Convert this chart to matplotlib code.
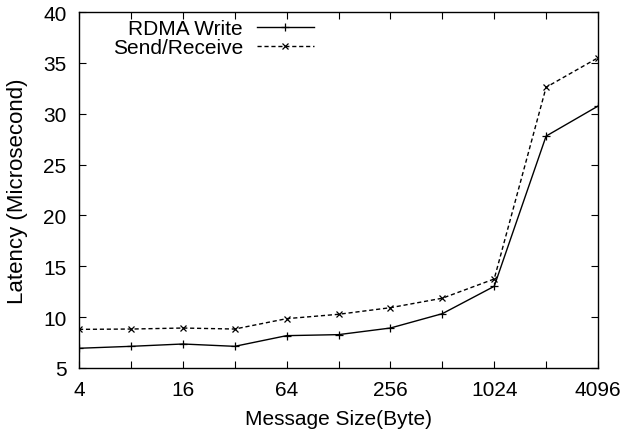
import matplotlib
matplotlib.use("Agg")
import matplotlib.pyplot as plt
import numpy as np

# message sizes in bytes
sizes = [4, 8, 16, 32, 64, 128, 256, 512, 1024, 2048, 4096]
rdma_write = [6.94, 7.13, 7.36, 7.13, 8.18, 8.28, 8.93, 10.34, 13.03, 27.8, 30.75]
send_recv = [8.80, 8.83, 8.93, 8.83, 9.85, 10.28, 10.93, 11.86, 13.75, 32.6, 35.5]
tick_labels = ["4", "", "16", "", "64", "", "256", "", "1024", "", "4096"]
y_ticks = [5, 10, 15, 20, 25, 30, 35, 40]

plt.rcParams["font.family"] = ["Liberation Sans", "DejaVu Sans"]
fs = 15

fig = plt.figure(figsize=(6.21, 4.39), dpi=100)
ax = fig.add_axes([79 / 621, 70 / 439, 519 / 621, 356 / 439])

ax.plot(sizes, rdma_write, color="black", lw=1.0, marker="+", ms=6,
        mew=0.9, label="RDMA Write")
ax.plot(sizes, send_recv, color="black", lw=1.0, ls=(0, (3, 2)), marker="x",
        ms=5, mew=0.9, label="Send/Receive")

ax.set_xscale("log", base=2)
ax.set_xlim(4, 4096)
ax.set_ylim(5, 40)
ax.set_xticks(sizes)
ax.set_xticklabels(tick_labels)
ax.minorticks_off()
ax.set_yticks(y_ticks)
ax.tick_params(direction="in", length=5, width=0.8, top=True, right=True,
               labelsize=fs, pad=9)
for s in ax.spines.values():
    s.set_linewidth(1.0)

ax.set_xlabel("Message Size(Byte)", fontsize=fs, labelpad=7)
ax.set_ylabel("Latency (Microsecond)", fontsize=16, labelpad=11)

leg = ax.legend(loc="upper right", bbox_to_anchor=(314 / 621, 1 - 20 / 439),
                bbox_transform=fig.transFigure, frameon=False,
                markerfirst=False, fontsize=fs, handlelength=2.74,
                handletextpad=0.67, labelspacing=0.0, borderpad=0,
                borderaxespad=0)
for t in leg.get_texts():
    t.set_ha("right")

fig.savefig("out.png", dpi=100)
plt.close(fig)
